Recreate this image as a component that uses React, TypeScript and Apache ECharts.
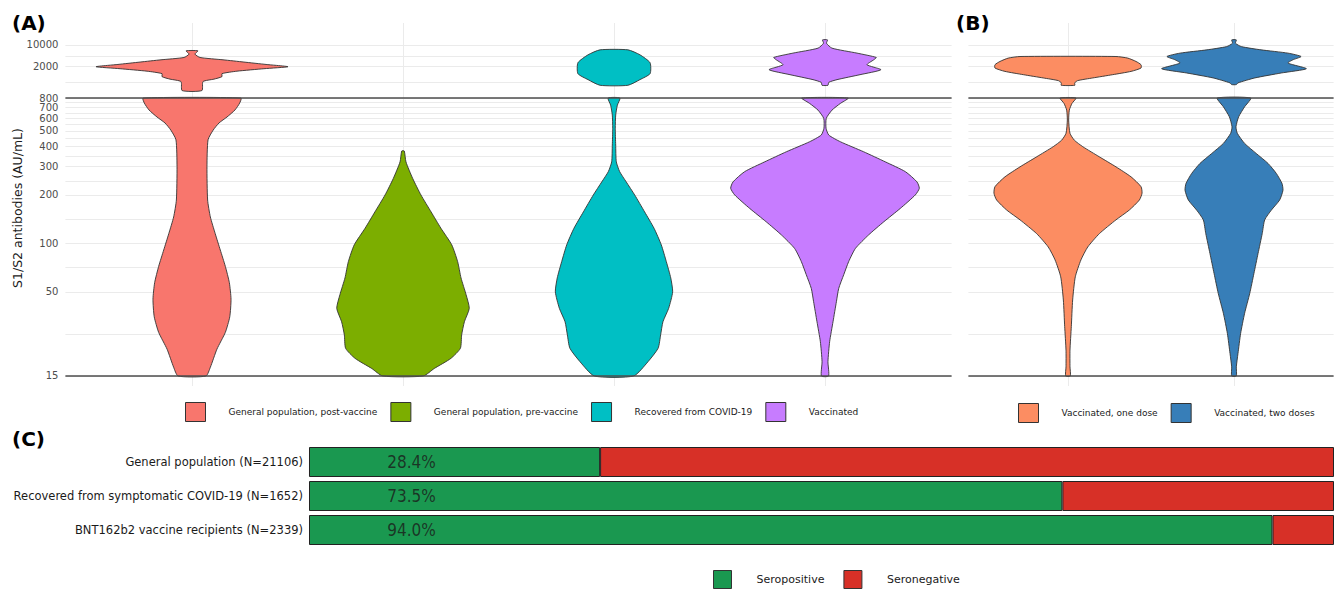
import React, { useEffect, useRef } from "react";
import * as echarts from "echarts";

// ---------- Panel A / B groups ----------
const GROUPS_A = [
  "General population, post-vaccine",
  "General population, pre-vaccine",
  "Recovered from COVID-19",
  "Vaccinated",
];
const COLORS_A = ["#F8766D", "#7CAE00", "#00BFC4", "#C77CFF"];
const GROUPS_B = ["Vaccinated, one dose", "Vaccinated, two doses"];
const COLORS_B = ["#FC8D62", "#377EB8"];

// Violin outlines, bottom -> top: antibody level (AU/mL) and half-width (category units)
const postVacLowY = [15, 17, 22, 28, 35, 45, 57, 72, 91, 115, 146, 186, 300, 440, 505, 560, 610, 675, 745, 800];
const postVacLowW = [0.066, 0.087, 0.118, 0.158, 0.179, 0.185, 0.177, 0.158, 0.134, 0.11, 0.087, 0.074, 0.071, 0.076, 0.1, 0.128, 0.166, 0.204, 0.226, 0.232];
const postVacUpY = [346, 668, 802, 964, 1200, 1440, 1728, 2000, 2366, 2820, 3330, 3950, 5060, 6440];
const postVacUpW = [0.047, 0.052, 0.104, 0.142, 0.142, 0.213, 0.341, 0.455, 0.351, 0.246, 0.147, 0.038, 0.014, 0.028];

const preVacLowY = [15, 16.7, 19.3, 22.3, 27, 32.6, 39.5, 48, 61, 77, 98, 124, 157, 200, 253, 321, 375];
const preVacLowW = [0.096, 0.148, 0.227, 0.272, 0.278, 0.291, 0.314, 0.299, 0.275, 0.259, 0.231, 0.18, 0.133, 0.085, 0.046, 0.014, 0.006];

const recovLowY = [15, 18.4, 22.3, 27, 32.6, 39.5, 50, 61, 77, 98, 124, 157, 200, 241, 279, 321, 408, 519, 627, 723, 800];
const recovLowW = [0.093, 0.161, 0.209, 0.221, 0.232, 0.259, 0.278, 0.269, 0.248, 0.224, 0.19, 0.145, 0.098, 0.058, 0.027, 0.011, 0.008, 0.006, 0.008, 0.016, 0.028];
const recovUpY = [510, 773, 1200, 2680, 4810, 6930];
const recovUpW = [0.066, 0.123, 0.171, 0.171, 0.123, 0.066];

const vaccLowY = [15, 18.4, 24.5, 32.6, 43.4, 52.5, 64, 77, 93, 113, 136, 165, 200, 220, 241, 279, 321, 371, 428, 471, 519, 598, 673, 741, 800];
const vaccLowW = [0.017, 0.014, 0.022, 0.038, 0.054, 0.065, 0.089, 0.112, 0.144, 0.207, 0.278, 0.357, 0.428, 0.447, 0.436, 0.381, 0.286, 0.183, 0.073, 0.018, 0.005, 0.006, 0.033, 0.073, 0.11];
const vaccUpY = [510, 635, 773, 1114, 1605, 2315, 3330, 3950, 5440, 7850, 11300, 14400];
const vaccUpW = [0.014, 0.018, 0.057, 0.166, 0.265, 0.199, 0.231, 0.243, 0.152, 0.033, 0.007, 0.012];

const oneDoseLowY = [15, 17.1, 21.7, 30.4, 44.5, 62, 79, 95, 115, 140, 161, 186, 205, 225, 259, 299, 345, 399, 438, 483, 584, 673, 741, 800];
const oneDoseLowW = [0.014, 0.012, 0.012, 0.02, 0.028, 0.044, 0.078, 0.119, 0.189, 0.289, 0.369, 0.43, 0.446, 0.44, 0.38, 0.289, 0.189, 0.089, 0.038, 0.012, 0.004, 0.008, 0.024, 0.048];
const oneDoseUpY = [510, 608, 719, 875, 1114, 1419, 1820, 2315, 2945, 3775, 4245];
const oneDoseUpW = [0.041, 0.04, 0.058, 0.149, 0.269, 0.38, 0.44, 0.44, 0.41, 0.36, 0.289];

const twoDoseLowY = [15, 17.1, 20.7, 27.6, 36.8, 49, 65, 86.7, 115, 140, 161, 186, 214, 236, 272, 314, 362, 418, 483, 530, 612, 706, 800];
const twoDoseLowW = [0.014, 0.014, 0.024, 0.04, 0.064, 0.095, 0.12, 0.145, 0.17, 0.185, 0.225, 0.275, 0.295, 0.289, 0.255, 0.205, 0.134, 0.064, 0.02, 0.012, 0.028, 0.064, 0.101];
const twoDoseUpY = [537, 608, 875, 1262, 1728, 2620, 3330, 4245, 5440, 6930, 8810, 11300, 14400];
const twoDoseUpW = [0.014, 0.024, 0.125, 0.285, 0.436, 0.325, 0.355, 0.404, 0.325, 0.163, 0.044, 0.009, 0.014];

// Axis ticks
const LOWER_TICKS = [15, 50, 100, 200, 300, 400, 500, 600, 700, 800];
const LOWER_MINOR = [27.4, 70.7, 141, 245, 346, 447, 548, 648, 748];
const UPPER_TICKS = [2000, 10000];
const UPPER_MINOR = [632, 4472];
const BREAK_LINES = [15, 800];

// ---------- Panel C ----------
const CATS_C = [
  "General population (N=21106)",
  "Recovered from symptomatic COVID-19 (N=1652)",
  "BNT162b2 vaccine recipients (N=2339)",
];
const SEROPOS = [28.4, 73.5, 94.0];
const SERONEG = [71.6, 26.5, 6.0];
const LABEL_AT = 10;
const C_COLORS = ["#1A9850", "#D73027"];

type Violin = { name: string; color: string; center: number; ys: number[]; ws: number[]; axis: number; lines?: boolean };

const violins: Violin[] = [
  { name: GROUPS_A[0], color: COLORS_A[0], center: 1, ys: postVacUpY, ws: postVacUpW, axis: 0 },
  { name: GROUPS_A[0], color: COLORS_A[0], center: 1, ys: postVacLowY, ws: postVacLowW, axis: 1, lines: true },
  { name: GROUPS_A[1], color: COLORS_A[1], center: 2, ys: preVacLowY, ws: preVacLowW, axis: 1 },
  { name: GROUPS_A[2], color: COLORS_A[2], center: 3, ys: recovUpY, ws: recovUpW, axis: 0 },
  { name: GROUPS_A[2], color: COLORS_A[2], center: 3, ys: recovLowY, ws: recovLowW, axis: 1 },
  { name: GROUPS_A[3], color: COLORS_A[3], center: 4, ys: vaccUpY, ws: vaccUpW, axis: 0 },
  { name: GROUPS_A[3], color: COLORS_A[3], center: 4, ys: vaccLowY, ws: vaccLowW, axis: 1 },
  { name: GROUPS_B[0], color: COLORS_B[0], center: 1, ys: oneDoseUpY, ws: oneDoseUpW, axis: 2 },
  { name: GROUPS_B[0], color: COLORS_B[0], center: 1, ys: oneDoseLowY, ws: oneDoseLowW, axis: 3, lines: true },
  { name: GROUPS_B[1], color: COLORS_B[1], center: 2, ys: twoDoseUpY, ws: twoDoseUpW, axis: 2 },
  { name: GROUPS_B[1], color: COLORS_B[1], center: 2, ys: twoDoseLowY, ws: twoDoseLowW, axis: 3 },
];

const FONT = "DejaVu Sans";
const GRID_COLOR = "#EBEBEB";

function violinSeries(v: Violin): any {
  const s: any = {
    type: "custom",
    name: v.name,
    xAxisIndex: v.axis,
    yAxisIndex: v.axis,
    silent: true,
    itemStyle: { color: v.color, borderColor: "#333", borderWidth: 1 },
    data: [[v.center, v.ys[0]]],
    renderItem: (_params: any, api: any) => {
      const right = v.ys.map((y, i) => api.coord([v.center + v.ws[i], y]));
      const left = v.ys.map((y, i) => api.coord([v.center - v.ws[i], y])).reverse();
      return {
        type: "polygon",
        shape: { points: right.concat(left), smooth: 0.2 },
        style: { fill: v.color, stroke: "#333333", lineWidth: 0.9 },
      };
    },
  };
  if (v.lines) {
    s.markLine = {
      silent: true,
      symbol: "none",
      label: { show: false },
      lineStyle: { color: "#4D4D4D", width: 1.6, type: "solid" },
      data: BREAK_LINES.map((b) => ({ yAxis: b })),
    };
  }
  return s;
}

function xAxisV(grid: number, max: number, centers: number[]) {
  return {
    type: "value",
    gridIndex: grid,
    min: 0.4,
    max,
    axisLine: { show: false },
    axisLabel: { show: false },
    axisTick: { show: false, customValues: centers },
    splitLine: { show: true, lineStyle: { color: GRID_COLOR, width: 1 } },
  };
}

function yAxisV(grid: number, min: number, max: number, labelValues: number[], gridValues: number[], labels: boolean, gridLines: boolean) {
  return {
    type: "log",
    logBase: 10,
    gridIndex: grid,
    position: "left",
    min,
    max,
    axisLine: { show: false },
    axisTick: { show: false, customValues: gridValues },
    axisLabel: {
      show: labels,
      customValues: labelValues,
      formatter: (val: number) => String(Math.round(val)),
      color: "#4D4D4D",
      fontSize: 10,
      margin: 7,
      fontFamily: FONT,
    },
    splitLine: { show: gridLines, lineStyle: { color: GRID_COLOR, width: 1 } },
  };
}

const lowerGridValues = LOWER_TICKS.concat(LOWER_MINOR).sort((a, b) => a - b);
const upperGridValues = UPPER_TICKS.concat(UPPER_MINOR).sort((a, b) => a - b);

const A_LEFT = 65.4, A_W = 886.2, B_LEFT = 968.4, B_W = 365.2;
const UP_TOP = 23, UP_H = 75, LOW_TOP = 98, LOW_H = 288;
const LOW_MIN = 13, LOW_MAX = 800.5, UP_MIN = 200, UP_MAX = 50000;

const legendText = (size: number, pad: number) => ({
  fontSize: size,
  color: "#1A1A1A",
  fontFamily: FONT,
  padding: [0, 0, 0, pad],
});

const option: any = {
  animation: false,
  textStyle: { fontFamily: FONT },
  grid: [
    { left: A_LEFT, top: UP_TOP, width: A_W, height: UP_H },
    { left: A_LEFT, top: LOW_TOP, width: A_W, height: LOW_H },
    { left: B_LEFT, top: UP_TOP, width: B_W, height: UP_H },
    { left: B_LEFT, top: LOW_TOP, width: B_W, height: LOW_H },
    { left: 309, top: 445, width: 1025, height: 102 },
  ],
  xAxis: [
    xAxisV(0, 4.6, [1, 2, 3, 4]),
    xAxisV(1, 4.6, [1, 2, 3, 4]),
    xAxisV(2, 2.6, [1, 2]),
    xAxisV(3, 2.6, [1, 2]),
    { type: "value", gridIndex: 4, min: 0, max: 100, show: false },
  ],
  yAxis: [
    yAxisV(0, UP_MIN, UP_MAX, UPPER_TICKS, upperGridValues, true, true),
    yAxisV(1, LOW_MIN, LOW_MAX, LOWER_TICKS.slice(0, -1), lowerGridValues, true, true),
    yAxisV(2, UP_MIN, UP_MAX, UPPER_TICKS, upperGridValues, false, true),
    yAxisV(3, LOW_MIN, LOW_MAX, LOWER_TICKS, lowerGridValues, false, true),
    {
      type: "category",
      gridIndex: 4,
      inverse: true,
      data: CATS_C,
      axisLine: { show: false },
      axisTick: { show: false },
      axisLabel: { color: "#1A1A1A", fontSize: 11.5, margin: 6, fontFamily: FONT },
    },
    // top label of the lower panel (kept on its own axis so it is not hidden by its neighbour)
    yAxisV(1, LOW_MIN, LOW_MAX, LOWER_TICKS.slice(-1), LOWER_TICKS.slice(-1), true, false),
  ],
  legend: [
    {
      left: 185, top: 402, padding: 0, icon: "rect", itemWidth: 20, itemHeight: 19, itemGap: 13,
      selectedMode: false,
      data: GROUPS_A.map((n, i) => ({ name: n, itemStyle: { color: COLORS_A[i], borderColor: "#333", borderWidth: 1 } })),
      textStyle: legendText(9, 18),
    },
    {
      left: 1018, top: 403, padding: 0, icon: "rect", itemWidth: 20, itemHeight: 19, itemGap: 13,
      selectedMode: false,
      data: GROUPS_B.map((n, i) => ({ name: n, itemStyle: { color: COLORS_B[i], borderColor: "#333", borderWidth: 1 } })),
      textStyle: legendText(9, 18),
    },
    {
      left: 713, top: 570, padding: 0, icon: "rect", itemWidth: 18, itemHeight: 18, itemGap: 19,
      selectedMode: false,
      data: ["Seropositive", "Seronegative"].map((n, i) => ({ name: n, itemStyle: { color: C_COLORS[i], borderColor: "#333", borderWidth: 1 } })),
      textStyle: legendText(11, 20),
    },
  ],
  series: [
    ...violins.map(violinSeries),
    {
      type: "bar", name: "Seropositive", xAxisIndex: 4, yAxisIndex: 4, stack: "sero",
      barWidth: 30, data: SEROPOS,
      itemStyle: { color: C_COLORS[0], borderColor: "#222", borderWidth: 1 },
      silent: true,
    },
    {
      type: "bar", name: "Seronegative", xAxisIndex: 4, yAxisIndex: 4, stack: "sero",
      barWidth: 30, data: SERONEG,
      itemStyle: { color: C_COLORS[1], borderColor: "#222", borderWidth: 1 },
      silent: true,
    },
    {
      type: "scatter", name: "labels", xAxisIndex: 4, yAxisIndex: 4, symbolSize: 0, silent: true,
      data: SEROPOS.map((v, i) => [LABEL_AT, CATS_C[i], v]),
      label: {
        show: true,
        position: "inside",
        formatter: (p: any) => p.value[2].toFixed(1) + "%",
        fontSize: 17,
        color: "#1A1A1A",
        fontFamily: "'Liberation Sans Narrow', 'DejaVu Sans Condensed', sans-serif",
      },
    },
  ],
  graphic: [
    { type: "text", x: 12, y: 23, style: { text: "(A)", fontSize: 20, fontWeight: "bold", fill: "#000", verticalAlign: "middle", fontFamily: FONT } },
    { type: "text", x: 956, y: 23, style: { text: "(B)", fontSize: 20, fontWeight: "bold", fill: "#000", verticalAlign: "middle", fontFamily: FONT } },
    { type: "text", x: 12, y: 439, style: { text: "(C)", fontSize: 20, fontWeight: "bold", fill: "#000", verticalAlign: "middle", fontFamily: FONT } },
    {
      type: "text", x: 17, y: 208, rotation: Math.PI / 2,
      style: { text: "S1/S2 antibodies (AU/mL)", fontSize: 12.5, fill: "#1A1A1A", align: "center", verticalAlign: "middle", fontFamily: FONT },
    },
  ],
};

export default function App() {
  const ref = useRef<HTMLDivElement>(null);
  useEffect(() => {
    const chart = echarts.init(ref.current as HTMLDivElement, null, { renderer: "svg" });
    chart.setOption(option);
    return () => chart.dispose();
  }, []);
  return <div ref={ref} style={{ position: "absolute", left: 0, top: 0, width: 1340, height: 589 }} />;
}
